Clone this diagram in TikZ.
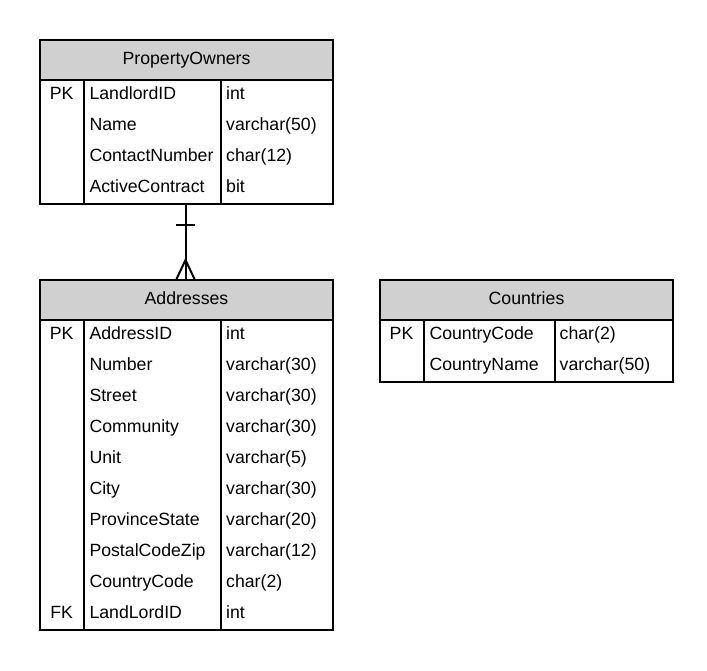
\documentclass[tikz,border=0pt]{standalone}
\usepackage{fontspec}
\setmainfont{Liberation Sans}
\usetikzlibrary{calc}
\definecolor{hdrgray}{RGB}{208,208,208}
\tikzset{
  ln/.style={line width=2pt, draw=black},
  tblbox/.style={ln, rectangle, inner sep=0pt, minimum width=293pt},
  hdrbox/.style={ln, fill=hdrgray, rectangle, inner sep=0pt, minimum width=293pt, minimum height=40pt},
  er/.style={inner sep=0pt, font=\fontsize{17.7}{20}\selectfont},
  ttl/.style={er, anchor=base},
  keytxt/.style={er, anchor=base},
  coltxt/.style={er, anchor=base west},
}
\begin{document}
\begin{tikzpicture}[x=1pt,y=-1pt]
\useasboundingbox (0,0) rectangle (707,671);
% ---------- PropertyOwners ----------
\node[tblbox, minimum height=164pt] (po) at (186.5,122) {};
\node[hdrbox] (poh) at (186.5,60) {};
\node[ttl] (pot) at (186.5,64.5) {PropertyOwners};
\draw[ln] (83.5,80) -- (83.5,204);
\draw[ln] (221,80) -- (221,204);
\node[keytxt] (pok1) at (61.7,99.5) {PK};
\foreach \n/\t [count=\i] in {LandlordID/int, Name/varchar(50), ContactNumber/char(12), ActiveContract/bit}{
  \node[coltxt] (pon\i) at (89.3,{80+31*(\i-1)+19.5}) {\n};
  \node[coltxt] (pot\i) at (226,{80+31*(\i-1)+19.5}) {\t};
}
% ---------- Addresses ----------
\node[tblbox, minimum height=350pt] (ad) at (186.5,455) {};
\node[hdrbox] (adh) at (186.5,300) {};
\node[ttl] (adt) at (186.5,304.5) {Addresses};
\draw[ln] (83.5,320) -- (83.5,630);
\draw[ln] (221,320) -- (221,630);
\node[keytxt] (adk1) at (61.7,339.5) {PK};
\node[keytxt] (adk10) at (61.7,{320+31*9+19.5}) {FK};
\foreach \n/\t [count=\i] in {AddressID/int, Number/varchar(30), Street/varchar(30), Community/varchar(30), Unit/varchar(5), City/varchar(30), ProvinceState/varchar(20), PostalCodeZip/varchar(12), CountryCode/char(2), LandLordID/int}{
  \node[coltxt] (adn\i) at (89.3,{320+31*(\i-1)+19.5}) {\n};
  \node[coltxt] (adty\i) at (226,{320+31*(\i-1)+19.5}) {\t};
}
% ---------- Countries ----------
\node[tblbox, minimum height=102pt] (co) at (526.5,331) {};
\node[hdrbox] (coh) at (526.5,300) {};
\node[ttl] (cot) at (526.5,304.5) {Countries};
\draw[ln] (423.5,320) -- (423.5,382);
\draw[ln] (555,320) -- (555,382);
\node[keytxt] (cok1) at (401.5,339.5) {PK};
\foreach \n/\t [count=\i] in {CountryCode/char(2), CountryName/varchar(50)}{
  \node[coltxt] (con\i) at (429.3,{320+31*(\i-1)+19.5}) {\n};
  \node[coltxt] (coty\i) at (559.5,{320+31*(\i-1)+19.5}) {\t};
}
% ---------- relationship ----------
\coordinate (rtop) at ($(po.south)+(-1,0)$);
\coordinate (rbot) at ($(ad.north)+(-1,0)$);
\draw[ln] (rtop) -- (rbot);
\draw[ln] ($(rtop)+(-9.5,20)$) -- ($(rtop)+(9.5,20)$);
\draw[ln] ($(rbot)+(-9,0)$) -- ($(rbot)+(0,-19)$) -- ($(rbot)+(9,0)$);
\end{tikzpicture}
\end{document}
